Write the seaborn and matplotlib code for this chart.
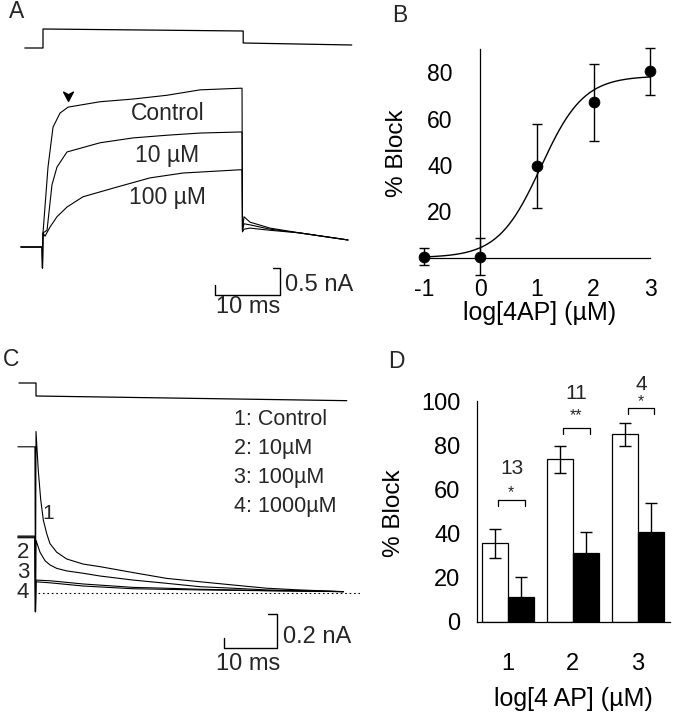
import numpy as np
import pandas as pd
import matplotlib
matplotlib.use("Agg")
import matplotlib.pyplot as plt
from matplotlib.path import Path
import seaborn as sns

# ---- panel A: step protocol and currents (ms, nA) ----
prot_a_t = [-2.8, 0, 0, 30.8, 30.8, 47.5]
prot_a_mv = [-80, -80, 34, 22, -50, -62]

a_ctrl_t = [-3.4, -0.15, -0.08, 0.0, 0.77, 1.54, 2.62, 3.85, 8.77, 13.85, 19.08, 24.15, 30.31, 30.62,
            30.69, 30.92, 31.85, 34.92, 39.54, 46.92]
a_ctrl_i = [0, 0, -0.39, 0.26, 1.48, 2.22, 2.48, 2.59, 2.69, 2.74, 2.81, 2.91, 2.94, 2.94,
            0.31, 0.56, 0.46, 0.35, 0.26, 0.13]
a_10_t = [-3.4, -0.15, -0.08, 0.0, 0.62, 1.38, 2.15, 3.69, 8.77, 13.85, 19.08, 24.15, 30.31, 30.62,
          30.69, 30.92, 31.85, 34.92, 39.54, 46.92]
a_10_i = [0, 0, -0.39, 0.26, 0.31, 1.15, 1.48, 1.76, 1.93, 2.02, 2.07, 2.11, 2.13, 2.13,
          0.31, 0.43, 0.41, 0.33, 0.26, 0.13]
a_100_t = [-3.4, -0.15, -0.08, 0.0, 0.31, 1.08, 2.15, 3.69, 6.15, 11.38, 16.46, 21.54, 30.31, 30.62,
           30.69, 30.92, 31.85, 34.92, 39.54, 46.92]
a_100_i = [0, 0, -0.39, 0.26, 0.20, 0.37, 0.56, 0.74, 0.93, 1.11, 1.28, 1.37, 1.43, 1.43,
           0.28, 0.33, 0.35, 0.31, 0.26, 0.13]

# ---- panel B: dose response ----
b_log_conc = [-1, 0, 1, 2, 3]
b_block = [0.5, 0.5, 39.6, 67.1, 80.5]
b_sem = [3.6, 8.0, 18.3, 16.7, 10.2]
hill_bmax, hill_logic50, hill_n = 78.5, 1.07, 1.15

# ---- panel C: tail currents ----
prot_c_t = [-3.2, 0, 0, 58.3]
prot_c_mv = [0, 0, -78, -106]

c1_t = [-3.4, -0.2, -0.1, 0.0, 0.43, 0.88, 1.37, 2.0, 2.63, 3.88, 5.76, 8.87, 12.0, 18.25, 24.5,
        30.8, 37.0, 43.3, 49.5, 57.7]
c1_i = [0.86, 0.86, -0.11, 0.95, 0.72, 0.55, 0.43, 0.35, 0.29, 0.24, 0.20, 0.17, 0.155, 0.12, 0.086,
        0.066, 0.047, 0.028, 0.018, 0.008]
c2_t = [-3.4, -0.2, -0.1, 0.0, 0.75, 1.69, 2.63, 3.88, 5.76, 8.87, 12.0, 18.25, 24.5, 30.8, 37.0,
        43.3, 57.7]
c2_i = [0.335, 0.335, -0.11, 0.31, 0.24, 0.19, 0.165, 0.145, 0.13, 0.116, 0.10, 0.076, 0.057, 0.037,
        0.028, 0.018, 0.008]
c3_t = [-3.4, -0.2, -0.1, 0.0, 2.63, 8.87, 18.25, 24.5, 30.8, 43.3, 57.7]
c3_i = [0.33, 0.33, -0.11, 0.076, 0.072, 0.053, 0.033, 0.028, 0.022, 0.014, 0.008]
c4_t = [-3.4, -0.2, -0.1, 0.0, 2.63, 8.87, 18.25, 30.8, 57.7]
c4_i = [0.325, 0.325, -0.11, 0.066, 0.06, 0.041, 0.025, 0.018, 0.008]
c_legend = ["1: Control", "2: 10\u00b5M", "3: 100\u00b5M", "4: 1000\u00b5M"]

# ---- panel D: bars ----
d_groups = ["1", "2", "3"]
d_white = [35.6, 73.6, 85.0]
d_white_err = [6.5, 6.1, 5.3]
d_black = [11.2, 31.4, 40.9]
d_black_err = [9.0, 9.5, 12.8]
d_n = ["13", "11", "4"]
d_stars = ["*", "**", "*"]
d_bracket_y = [55.2, 87.8, 96.8]
d_star_y = [56.7, 91.3, 97.8]
d_n_y = [67.0, 100.9, 105.0]

sns.set_theme(style="white")
plt.rcParams["font.family"] = ["Liberation Sans", "DejaVu Sans"]
plt.rcParams["axes.unicode_minus"] = False

W, H = 675, 719
fig = plt.figure(figsize=(W / 100, H / 100), dpi=100, facecolor="white")


def px_axes(left, top, right, bottom):
    return fig.add_axes([left / W, 1 - bottom / H, (right - left) / W, (bottom - top) / H])


def trace(ax, t, y, lw=0.8):
    sns.lineplot(x=t, y=y, ax=ax, color="black", lw=lw, sort=False, estimator=None)


def scale_bar(ax, x0, y0, dx, dy, tx, ty):
    # corner at (x0, y0): horizontal bar to the left, vertical bar up
    ax.plot([x0 - dx, x0 - dx, x0, x0, x0 - tx], [y0 + ty, y0, y0, y0 + dy, y0 + dy],
            color="black", lw=1)


arrowhead = Path([(0, -1), (-1, 0.9), (0, 0.35), (1, 0.9), (0, -1)],
                 [Path.MOVETO, Path.LINETO, Path.LINETO, Path.LINETO, Path.CLOSEPOLY])

# panel A
a_xlim = ((0 - 43) / 6.5, (360 - 43) / 6.5)
axa_p = px_axes(0, 20, 360, 60)
trace(axa_p, prot_a_t, prot_a_mv, lw=0.9)
axa_p.set_xlim(a_xlim)
axa_p.set_ylim(-152, 88)
axa_p.axis("off")

axa = px_axes(0, 60, 360, 340)
for t, i in [(a_ctrl_t, a_ctrl_i), (a_10_t, a_10_i), (a_100_t, a_100_i)]:
    trace(axa, t, i)
axa.set_xlim(a_xlim)
axa.set_ylim((247 - 340) / 54, (247 - 60) / 54)
axa.axis("off")
axa.plot([3.85], [2.80], marker=arrowhead, ms=7, color="black", ls="none")
axa.text(19.15, 2.48, "Control", ha="center", va="center", fontsize=16.5)
axa.text(19.15, 1.70, "10 \u00b5M", ha="center", va="center", fontsize=16.5)
axa.text(19.1, 0.91, "100 \u00b5M", ha="center", va="center", fontsize=16.5)
scale_bar(axa, 36.46, -0.89, 10, 0.5, 1.1, 0.185)
axa.text(37.2, -0.70, "0.5 nA", ha="left", va="center", fontsize=17)
axa.text(31.5, -1.11, "10 ms", ha="center", va="center", fontsize=17)

# panel B
axb = px_axes(421, 40, 653, 262.3)
fit_x = np.linspace(-1, 3, 200)
fit_y = hill_bmax / (1 + 10 ** ((hill_logic50 - fit_x) * hill_n))
sns.lineplot(x=fit_x, y=fit_y, ax=axb, color="black", lw=1)
axb.errorbar(b_log_conc, b_block, yerr=b_sem, fmt="none", ecolor="black", elinewidth=1,
             capsize=3.6, capthick=1, clip_on=False)
sns.scatterplot(x=b_log_conc, y=b_block, ax=axb, color="black", s=60, edgecolor="black",
                clip_on=False, zorder=5)
axb.set_xlim(-1.053, 3.053)
axb.set_ylim(-2, 94)
for s in ["top", "right"]:
    axb.spines[s].set_visible(False)
axb.spines["left"].set_position(("data", 0))
axb.spines["bottom"].set_position(("data", 0))
axb.spines["left"].set_bounds(0, 90)
axb.spines["bottom"].set_bounds(-1, 3)
for s in ["left", "bottom"]:
    axb.spines[s].set_color("black")
    axb.spines[s].set_linewidth(0.9)
axb.set_xticks([-1, 0, 1, 2, 3])
axb.set_yticks([20, 40, 60, 80])
axb.tick_params(axis="both", direction="inout", length=9, width=0.9, color="black",
                labelsize=16.5, labelcolor="black")
axb.tick_params(axis="y", pad=15.5)
axb.tick_params(axis="x", pad=10)
axb.set_ylabel("% Block", fontsize=17.5, va="center", color="black")
axb.set_xlabel("log[4AP] (\u00b5M)", fontsize=18, va="center", color="black")
axb.yaxis.set_label_coords(-0.103, 0.492)
axb.xaxis.set_label_coords(0.509, -0.228)

# panel C
c_xlim = ((0 - 36) / 5.33, (360 - 36) / 5.33)
axc_p = px_axes(0, 370, 360, 410)
trace(axc_p, prot_c_t, prot_c_mv, lw=0.9)
axc_p.set_xlim(c_xlim)
axc_p.set_ylim(-162, 78)
axc_p.axis("off")

axc = px_axes(0, 400, 360, 700)
for t, i in [(c4_t, c4_i), (c3_t, c3_i), (c2_t, c2_i), (c1_t, c1_i)]:
    trace(axc, t, i)
axc.axhline(0, xmin=38 / 360, xmax=1, color="black", lw=0.8, ls=(0, (1.5, 2.5)))
axc.set_xlim(c_xlim)
axc.set_ylim((593 - 700) / 170, (593 - 400) / 170)
axc.axis("off")
for k, lab in enumerate(c_legend):
    axc.text(37.2, 1.02 - 0.17 * k, lab, ha="left", va="center", fontsize=15.5)
axc.text(2.26, 0.47, "1", ha="center", va="center", fontsize=15)
for k, lab in enumerate(["2", "3", "4"]):
    axc.text(-2.45, 0.24 - 0.12 * k, lab, ha="center", va="center", fontsize=16)
scale_bar(axc, 45.28, -0.325, 10, 0.2, 1.7, 0.059)
axc.text(46.3, -0.257, "0.2 nA", ha="left", va="center", fontsize=17)
axc.text(39.8, -0.42, "10 ms", ha="center", va="center", fontsize=17)

# panel D
axd = px_axes(477, 379, 670, 622)
d_df = pd.DataFrame({
    "group": d_groups * 2,
    "cond": ["ctrl"] * 3 + ["drug"] * 3,
    "block": d_white + d_black,
})
sns.barplot(data=d_df, x="group", y="block", hue="cond", order=d_groups, hue_order=["ctrl", "drug"],
            palette={"ctrl": "white", "drug": "black"}, saturation=1, errorbar=None,
            edgecolor="black", linewidth=0.9, width=0.8, legend=False, ax=axd)
pos = np.arange(len(d_groups))
axd.errorbar(pos - 0.2, d_white, yerr=d_white_err, fmt="none", ecolor="black", elinewidth=1,
             capsize=4.3, capthick=1, zorder=4)
axd.errorbar(pos + 0.2, d_black, yerr=d_black_err, fmt="none", ecolor="black", elinewidth=1,
             capsize=4.3, capthick=1, zorder=4)
for k in range(len(d_groups)):
    y = d_bracket_y[k]
    axd.plot([k - 0.15, k - 0.15, k + 0.26, k + 0.26], [y - 2.6, y, y, y - 2.6],
             color="black", lw=0.9, clip_on=False)
    axd.text(k + 0.05, d_star_y[k], d_stars[k], ha="center", va="baseline", fontsize=11.5,
             clip_on=False)
    axd.text(k + 0.06, d_n_y[k], d_n[k], ha="center", va="baseline", fontsize=15, clip_on=False)
axd.set_xlim(-0.48, 2.5)
axd.set_ylim(0, 110)
for s in ["top", "right"]:
    axd.spines[s].set_visible(False)
for s in ["left", "bottom"]:
    axd.spines[s].set_color("black")
    axd.spines[s].set_linewidth(0.9)
axd.spines["left"].set_bounds(0, 100)
axd.set_yticks([0, 20, 40, 60, 80, 100])
axd.set_xticks([0.5, 1.5, 2.5], labels=[])
axd.set_xticks(pos, labels=d_groups, minor=True)
axd.tick_params(axis="both", which="major", direction="inout", length=8, width=0.9, color="black",
                labelsize=17, labelcolor="black")
axd.tick_params(axis="y", pad=8)
axd.tick_params(axis="x", which="minor", length=0, pad=22.5, labelsize=17, labelcolor="black")
axd.set_ylabel("% Block", fontsize=17.5, va="center", color="black")
axd.set_xlabel("log[4 AP] (\u00b5M)", fontsize=18, va="center", color="black")
axd.yaxis.set_label_coords(-0.430, 0.449)
axd.xaxis.set_label_coords(0.497, -0.317)

# panel letters
for lab, x, y in [("A", 17, 12), ("B", 400, 16), ("C", 11, 360), ("D", 396, 362)]:
    fig.text(x / W, 1 - y / H, lab, ha="center", va="center", fontsize=16.5)

fig.savefig("out.png", dpi=100, facecolor="white")
